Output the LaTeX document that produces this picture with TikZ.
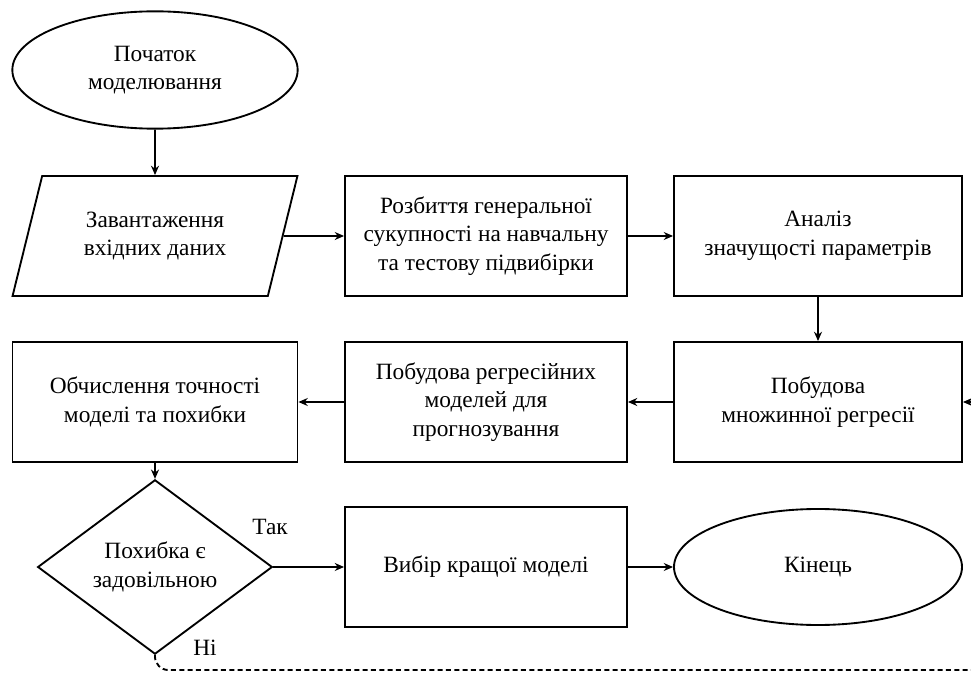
\documentclass[tikz,border=0pt]{standalone}
\usepackage{fontspec}
\setmainfont{Liberation Serif}
\usetikzlibrary{arrows.meta,positioning,shapes.geometric}

\begin{document}
\begin{tikzpicture}[
      x=0.75pt, y=-0.75pt,
      every node/.style={font=\fontsize{17.5}{21.5}\selectfont, align=center},
      block/.style={draw, line width=1.4pt, minimum width=211.5pt, minimum height=90pt, inner sep=2pt},
      wideblock/.style={block, minimum width=216pt},
      startstop/.style={ellipse, draw, line width=1.4pt, minimum width=214pt, minimum height=88pt, inner sep=0pt},
      io/.style={trapezium, trapezium left angle=69, trapezium right angle=111, trapezium stretches=true,
                 draw, line width=1.4pt, minimum width=213.75pt, minimum height=90pt, inner sep=0pt},
      decision/.style={diamond, draw, line width=1.4pt, minimum width=176pt, minimum height=124.5pt, inner sep=0pt},
      arrow/.style={-{Stealth[length=7pt,width=6pt]}, line width=1.4pt},
      back/.style={arrow, dash pattern=on 3.75pt off 2.5pt}
    ]
    \useasboundingbox (0,0) rectangle (971,673);

    \node[startstop] (start) at (155,70) {Початок\\моделювання};
    \node[io] (load) at (155,236) {Завантаження\\вхідних даних};
    \node[block] (split) at (486,236) {Розбиття генеральної\\сукупності на навчальну\\та тестову підвибірки};
    \node[wideblock] (signif) at (818,236) {Аналіз\\значущості параметрів};

    \node[wideblock] (multi) at (818,402) {Побудова\\множинної регресії};
    \node[block] (models) at (486,402) {Побудова регресійних\\моделей для\\прогнозування};
    \node[block, minimum width=213.75pt] (acc) at (155,402) {Обчислення точності\\моделі та похибки};

    \node[decision] (ok) at (155,567) {Похибка є\\задовільною};
    \node[block] (best) at (486,567) {Вибір кращої моделі};
    \node[startstop, minimum width=216pt, minimum height=87pt] (end) at (818,567) {Кінець};

    \node (yes) at (270,527) {Так};
    \node (no) at (205,648) {Ні};

    \draw[arrow] (start) -- (load);
    \draw[arrow] (load) -- (split);
    \draw[arrow] (split) -- (signif);
    \draw[arrow] (signif) -- (multi);
    \draw[arrow] (multi) -- (models);
    \draw[arrow] (models) -- (acc);
    \draw[arrow] (acc) -- (ok);
    \draw[arrow] (ok) -- (best);
    \draw[arrow] (best) -- (end);

    % loop back when the error is too large
    \coordinate (loopB) at (1010,670);
    \draw[back, rounded corners=10pt] (ok.south) |- (loopB) |- (multi.east);
  \end{tikzpicture}
\end{document}
